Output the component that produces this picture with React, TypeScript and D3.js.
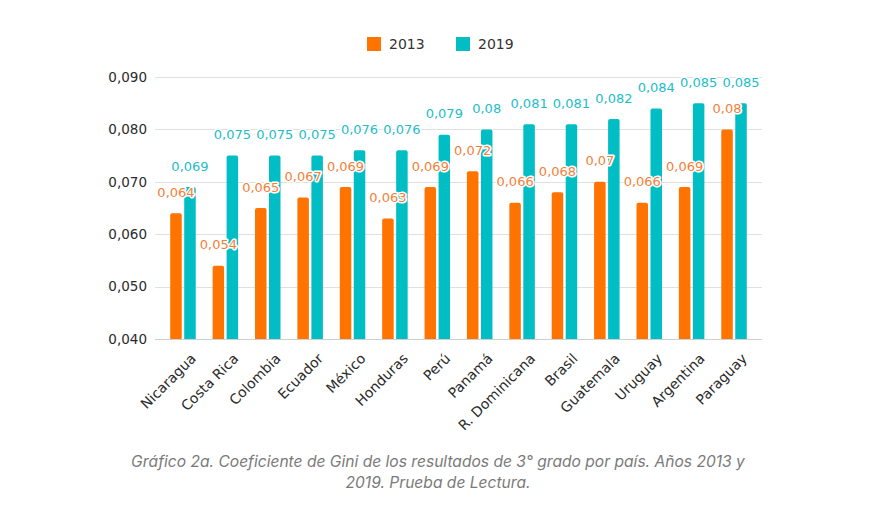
import { useEffect, useRef } from 'react';
import * as d3 from 'd3';

const countries = [
  'Nicaragua',
  'Costa Rica',
  'Colombia',
  'Ecuador',
  'México',
  'Honduras',
  'Perú',
  'Panamá',
  'R. Dominicana',
  'Brasil',
  'Guatemala',
  'Uruguay',
  'Argentina',
  'Paraguay',
];
const gini2013 = [0.064, 0.054, 0.065, 0.067, 0.069, 0.063, 0.069, 0.072, 0.066, 0.068, 0.07, 0.066, 0.069, 0.08];
const gini2019 = [0.069, 0.075, 0.075, 0.075, 0.076, 0.076, 0.079, 0.08, 0.081, 0.081, 0.082, 0.084, 0.085, 0.085];
const seriesNames = ['2013', '2019'];
const yTicks = [0.04, 0.05, 0.06, 0.07, 0.08, 0.09];
const captionLines = [
  'Gráfico 2a. Coeficiente de Gini de los resultados de 3° grado por país. Años 2013 y',
  '2019. Prueba de Lectura.',
];

const barColors = ['#ff7300', '#00bec4'];
const labelColors = ['#f47f3a', '#1dbdc8'];

const esLocale = d3.formatLocale({ decimal: ',', thousands: '.', grouping: [3], currency: ['', ''] });
const tickFormat = esLocale.format('.3f');
const valueFormat = esLocale.format('.3~f');

// bar with rounded top corners
function topRoundedRect(x: number, y: number, w: number, h: number, r: number) {
  const rr = Math.min(r, w / 2, h);
  return `M${x},${y + h}V${y + rr}Q${x},${y} ${x + rr},${y}H${x + w - rr}Q${x + w},${y} ${x + w},${y + rr}V${y + h}Z`;
}

export default function App() {
  const ref = useRef<SVGSVGElement>(null);

  useEffect(() => {
    const el = ref.current;
    if (!el) return;
    const svg = d3.select(el);
    svg.selectAll('*').remove();

    const width = 887;
    const height = 512;
    const plot = { left: 155, right: 762, top: 77, bottom: 339 };
    const font = "'DejaVu Sans', Verdana, sans-serif";

    svg.attr('viewBox', `0 0 ${width} ${height}`);
    svg.append('rect').attr('width', width).attr('height', height).attr('fill', '#fff');

    const x = d3.scaleBand<string>().domain(countries).range([plot.left, plot.right]).paddingInner(0).paddingOuter(0.16);
    const xs = d3.scaleBand<string>().domain(seriesNames).range([-12.75, 12.75]).paddingInner(0.178);
    const y = d3.scaleLinear().domain([0.04, 0.09]).range([plot.bottom, plot.top]);

    // grid + y labels
    const grid = svg.append('g');
    grid
      .selectAll('line')
      .data(yTicks)
      .join('line')
      .attr('x1', plot.left)
      .attr('x2', plot.right)
      .attr('y1', (d) => Math.round(y(d)) + 0.5)
      .attr('y2', (d) => Math.round(y(d)) + 0.5)
      .attr('stroke', (d) => (d === 0.04 ? '#cfcfcf' : '#e0e0e0'))
      .attr('stroke-width', 1);
    grid
      .selectAll('text')
      .data(yTicks)
      .join('text')
      .attr('x', 147)
      .attr('y', (d) => y(d))
      .attr('dy', '0.36em')
      .attr('text-anchor', 'end')
      .attr('font-family', font)
      .attr('font-size', 13.5)
      .attr('fill', '#2b2b2b')
      .text((d) => tickFormat(d));

    const series = [gini2013, gini2019];

    // bars
    series.forEach((values, si) => {
      svg
        .append('g')
        .selectAll('path')
        .data(values)
        .join('path')
        .attr('d', (v, i) => {
          const bx = (x(countries[i]) ?? 0) + x.bandwidth() / 2 + (xs(seriesNames[si]) ?? 0);
          return topRoundedRect(bx, y(v), xs.bandwidth(), plot.bottom - y(v), 2);
        })
        .attr('fill', barColors[si]);
    });

    // value labels
    series.forEach((values, si) => {
      svg
        .append('g')
        .selectAll('text')
        .data(values)
        .join('text')
        .attr('x', (_v, i) => (x(countries[i]) ?? 0) + x.bandwidth() / 2 + (xs(seriesNames[si]) ?? 0) + xs.bandwidth() / 2)
        .attr('y', (v) => y(v) - 21)
        .attr('dy', '0.36em')
        .attr('text-anchor', 'middle')
        .attr('font-family', font)
        .attr('font-size', 13)
        .attr('fill', labelColors[si])
        .attr('stroke', '#fff')
        .attr('stroke-width', 3)
        .attr('stroke-linejoin', 'round')
        .attr('paint-order', 'stroke')
        .text((v) => valueFormat(v));
    });

    // x labels
    svg
      .append('g')
      .selectAll('text')
      .data(countries)
      .join('text')
      .attr('transform', (c) => `translate(${(x(c) ?? 0) + x.bandwidth() / 2 + 7},${plot.bottom + 13.5}) rotate(-45)`)
      .attr('text-anchor', 'end')
      .attr('dy', '0.7em')
      .attr('font-family', font)
      .attr('font-size', 14)
      .attr('fill', '#2b2b2b')
      .text((c) => c);

    // legend
    const legend = svg.append('g').attr('transform', 'translate(367,37)');
    seriesNames.forEach((name, i) => {
      const g = legend.append('g').attr('transform', `translate(${i * 89},0)`);
      g.append('rect').attr('width', 14).attr('height', 14).attr('fill', barColors[i]);
      g.append('text')
        .attr('x', 22)
        .attr('y', 7)
        .attr('dy', '0.36em')
        .attr('font-family', font)
        .attr('font-size', 14)
        .attr('fill', '#333')
        .text(name);
    });

    // caption
    svg
      .append('g')
      .selectAll('text')
      .data(captionLines)
      .join('text')
      .attr('x', 438)
      .attr('y', (_d, i) => 467 + i * 21)
      .attr('text-anchor', 'middle')
      .attr('font-family', 'Inter, sans-serif')
      .attr('font-style', 'italic')
      .attr('font-size', 15.6)
      .attr('fill', '#7a7a7a')
      .text((d) => d);
  }, []);

  return (
    <svg
      ref={ref}
      width={887}
      height={512}
      style={{ position: 'absolute', left: 0, top: 0, display: 'block' }}
    />
  );
}
